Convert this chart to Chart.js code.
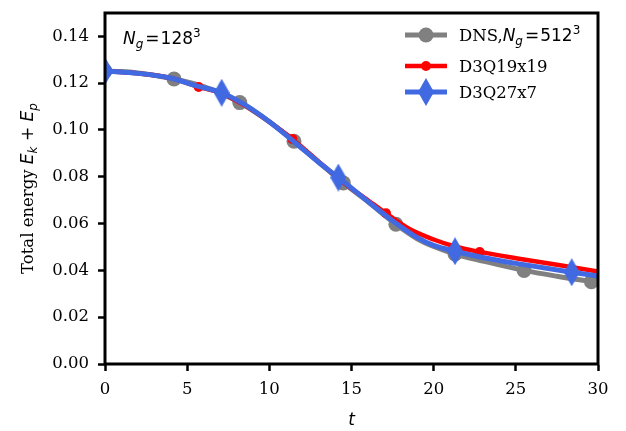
<!DOCTYPE html>
<html>
<head>
<meta charset="utf-8">
<script src="https://cdn.jsdelivr.net/npm/chart.js@4.4.1/dist/chart.umd.min.js"></script>
<style>
    html, body { margin: 0; padding: 0; background: #fff; }
    canvas { display: block; }
</style>
</head>
<body>
<canvas id="myChart" width="626" height="431"></canvas>
<script>
// DNS reference, N_g = 512^3
var tDNS = [0, 1, 2, 3, 4.2, 5, 6, 7, 8.2, 9, 10, 11.5, 13, 14.5, 16, 17.7, 19, 20, 21.3, 23, 25.5, 27.5, 29.6, 30];
var eDNS = [0.1252, 0.1250, 0.1244, 0.1234, 0.1218, 0.1205, 0.1185, 0.1158, 0.1117, 0.1083, 0.1035, 0.0952, 0.0862, 0.0774, 0.0693, 0.0597, 0.0535, 0.0502, 0.0470, 0.0440, 0.0400, 0.0375, 0.0352, 0.0348];
var markDNS = [0, 4.2, 8.2, 11.5, 14.5, 17.7, 21.3, 25.5, 29.6];

// D3Q19x19
var tRed = [0, 2, 4, 5.7, 7, 8.5, 10, 11.4, 13, 14.5, 16, 17.1, 18.5, 20, 21.3, 22.8, 25, 27.5, 30];
var eRed = [0.1252, 0.1242, 0.1222, 0.1184, 0.1160, 0.1105, 0.1035, 0.0962, 0.0865, 0.0776, 0.0700, 0.0644, 0.0578, 0.0532, 0.0502, 0.0479, 0.0452, 0.0424, 0.0395];
var markRed = [0, 5.7, 11.4, 17.1, 22.8];

// D3Q27x7
var tBlue = [0, 2, 4, 5.5, 7.1, 8.5, 10, 11.5, 13, 14.2, 16, 17.5, 19, 20, 21.3, 23, 25, 28.4, 30];
var eBlue = [0.1252, 0.1242, 0.1222, 0.1190, 0.1159, 0.1108, 0.1035, 0.0950, 0.0862, 0.0797, 0.0695, 0.0612, 0.0540, 0.0507, 0.0482, 0.0455, 0.0430, 0.0392, 0.0376];
var markBlue = [0, 7.1, 14.2, 21.3, 28.4];

var xTicks = [0, 5, 10, 15, 20, 25, 30];
var yTicks = [0, 0.02, 0.04, 0.06, 0.08, 0.10, 0.12, 0.14];

var fSerif = "16.5px 'DejaVu Serif'";
var fMathIt = "italic 17px 'DejaVu Sans'";
var fMathSub = "italic 12px 'DejaVu Sans'";
var fMathUp = "17px 'DejaVu Sans'";
var fMathSup = "12px 'DejaVu Sans'";

var GRAY = "#808080";
var RED = "#ff0000";
var BLUE = "#4169e1";

// thin diamond marker
var diamond = document.createElement("canvas");
diamond.width = 16;
diamond.height = 28;
(function () {
    var c = diamond.getContext("2d");
    c.fillStyle = BLUE;
    c.beginPath();
    c.moveTo(8, 0);
    c.lineTo(16, 14);
    c.lineTo(8, 28);
    c.lineTo(0, 14);
    c.closePath();
    c.fill();
})();

function toPoints(ts, es) {
    var pts = [];
    for (var i = 0; i < ts.length; i++) {
        pts.push({ x: ts[i], y: es[i] });
    }
    return pts;
}

function radii(ts, marks, r) {
    return ts.map(function (t) {
        return marks.indexOf(t) >= 0 ? r : 0;
    });
}

// text made of several font runs
function richWidth(ctx, parts) {
    var w = 0;
    parts.forEach(function (p) {
        ctx.font = p.f;
        w += ctx.measureText(p.t).width + (p.gap || 0);
    });
    return w;
}

function drawRich(ctx, x, y, parts) {
    var cx = x;
    parts.forEach(function (p) {
        ctx.font = p.f;
        ctx.fillText(p.t, cx, y + (p.dy || 0));
        cx += ctx.measureText(p.t).width + (p.gap || 0);
    });
}

var extras = {
    id: "extras",
    afterDatasetsDraw: function (chart) {
        var ctx = chart.ctx;
        var a = chart.chartArea;
        ctx.save();
        ctx.strokeStyle = "#000";
        ctx.lineWidth = 3;
        ctx.strokeRect(a.left, a.top, a.right - a.left, a.bottom - a.top);
        ctx.restore();
    },
    afterDraw: function (chart) {
        var ctx = chart.ctx;
        var a = chart.chartArea;
        ctx.save();
        ctx.fillStyle = "#000";
        ctx.textBaseline = "alphabetic";
        ctx.textAlign = "left";

        // annotation
        drawRich(ctx, 123, 44, [
            { t: "N", f: fMathIt },
            { t: "g", f: fMathSub, dy: 4, gap: 2 },
            { t: "=", f: fMathUp, gap: 1 },
            { t: "128", f: fMathUp },
            { t: "3", f: fMathSup, dy: -7 }
        ]);

        // legend
        var rows = [
            { y: 35, color: GRAY, lw: 5, r: 7.5, parts: [
                { t: "DNS,", f: fSerif },
                { t: "N", f: fMathIt },
                { t: "g", f: fMathSub, dy: 4, gap: 2 },
                { t: "=", f: fMathUp, gap: 1 },
                { t: "512", f: fMathUp },
                { t: "3", f: fMathSup, dy: -7 }
            ] },
            { y: 66, color: RED, lw: 4.5, r: 5, parts: [{ t: "D3Q19x19", f: fSerif }] },
            { y: 92, color: BLUE, lw: 5, r: 0, parts: [{ t: "D3Q27x7", f: fSerif }] }
        ];
        rows.forEach(function (row) {
            ctx.strokeStyle = row.color;
            ctx.lineWidth = row.lw;
            ctx.beginPath();
            ctx.moveTo(405, row.y);
            ctx.lineTo(447, row.y);
            ctx.stroke();
            if (row.r > 0) {
                ctx.fillStyle = row.color;
                ctx.beginPath();
                ctx.arc(426, row.y, row.r, 0, Math.PI * 2);
                ctx.fill();
            } else {
                ctx.drawImage(diamond, 426 - 8, row.y - 14);
            }
            ctx.fillStyle = "#000";
            drawRich(ctx, 459, row.y + 6, row.parts);
        });

        // x title
        ctx.font = fMathIt;
        ctx.textAlign = "center";
        ctx.fillText("t", (a.left + a.right) / 2, 425);
        ctx.textAlign = "left";

        // y title
        var yParts = [
            { t: "Total energy ", f: fSerif },
            { t: "E", f: fMathIt },
            { t: "k", f: fMathSub, dy: 4 },
            { t: " + ", f: fMathUp },
            { t: "E", f: fMathIt },
            { t: "p", f: fMathSub, dy: 4 }
        ];
        var w = richWidth(ctx, yParts);
        ctx.translate(33, (a.top + a.bottom) / 2);
        ctx.rotate(-Math.PI / 2);
        drawRich(ctx, -w / 2, 0, yParts);
        ctx.restore();
    }
};

new Chart(document.getElementById("myChart"), {
    type: "line",
    data: {
        datasets: [
            {
                label: "D3Q27x7",
                data: toPoints(tBlue, eBlue),
                borderColor: BLUE,
                backgroundColor: BLUE,
                borderWidth: 5,
                pointRadius: radii(tBlue, markBlue, 8),
                pointStyle: diamond,
                cubicInterpolationMode: "monotone",
                clip: 0,
                order: 1,
            },
            {
                label: "D3Q19x19",
                data: toPoints(tRed, eRed),
                borderColor: RED,
                backgroundColor: RED,
                borderWidth: 4.5,
                pointRadius: radii(tRed, markRed, 5),
                pointBorderWidth: 0,
                cubicInterpolationMode: "monotone",
                clip: 0,
                order: 2,
            },
            {
                label: "DNS",
                data: toPoints(tDNS, eDNS),
                borderColor: GRAY,
                backgroundColor: GRAY,
                borderWidth: 5,
                pointRadius: radii(tDNS, markDNS, 7.5),
                pointBorderWidth: 0,
                cubicInterpolationMode: "monotone",
                clip: 0,
                order: 3,
            },
        ],
    },
    options: {
        responsive: false,
        animation: false,
        layout: {
            padding: { left: 0, right: 28, top: 10, bottom: 0 },
        },
        plugins: {
            legend: { display: false },
            tooltip: { enabled: false },
        },
        scales: {
            x: {
                type: "linear",
                min: 0,
                max: 30,
                afterBuildTicks: function (scale) {
                    scale.ticks = xTicks.map(function (v) { return { value: v }; });
                },
                afterFit: function (scale) {
                    scale.height = 67;
                },
                ticks: {
                    font: { family: "'DejaVu Serif'", size: 16.5 },
                    color: "#000",
                    padding: 9,
                },
                grid: {
                    drawOnChartArea: false,
                    tickLength: 7,
                    tickWidth: 2.5,
                    tickColor: "#000",
                },
            },
            y: {
                min: 0,
                max: 0.15,
                afterBuildTicks: function (scale) {
                    scale.ticks = yTicks.map(function (v) { return { value: v }; });
                },
                afterFit: function (scale) {
                    scale.width = 105;
                    scale.paddingTop = 0;
                    scale.paddingBottom = 0;
                },
                ticks: {
                    font: { family: "'DejaVu Serif'", size: 16.5 },
                    color: "#000",
                    padding: 9,
                    callback: function (v) { return v.toFixed(2); },
                },
                grid: {
                    drawOnChartArea: false,
                    tickLength: 7,
                    tickWidth: 2.5,
                    tickColor: "#000",
                },
            },
        },
    },
    plugins: [extras],
});
</script>
</body>
</html>
